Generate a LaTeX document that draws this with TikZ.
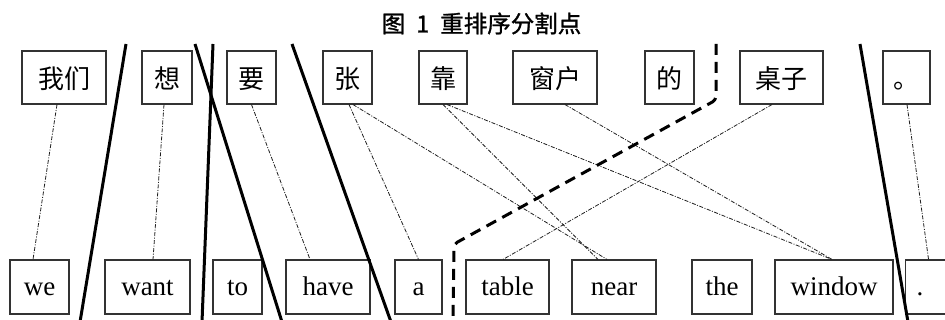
\documentclass[tikz,border=0pt]{standalone}
\usepackage{fontspec}
\setmainfont{Liberation Serif}
\newfontfamily\cjk{Noto Sans CJK SC}
\newfontfamily\cjktitle[FakeBold=1.2]{Noto Sans CJK SC}
\begin{document}
\begin{tikzpicture}[x=1pt,y=-1pt,
  zbox/.style={draw=black!80, line width=1.1pt, minimum height=53pt, inner sep=0pt,
    text height=23pt, text depth=0pt, font=\cjk\fontsize{26}{26}\selectfont},
  ebox/.style={draw=black!80, line width=1.1pt, minimum height=54pt, inner sep=0pt,
    text height=19pt, text depth=1pt, font=\fontsize{27}{27}\selectfont},
  link/.style={draw=black!88, line width=0.8pt, dash pattern=on 4pt off 1.5pt on 1pt off 1.5pt},
  cut/.style={draw=black, line width=3pt},
  dcut/.style={cut, dash pattern=on 11pt off 7pt}]
\useasboundingbox (0,0) rectangle (945,320);
\fill[white] (0,0) rectangle (945,320);

\node[font=\cjktitle\fontsize{23.5}{23.5}\selectfont] (title) at (481.5,23.5) {图\hskip 11pt 1\hskip 11pt 重排序分割点};

% Chinese boxes
\node[zbox, minimum width=84pt] (z1) at (64,77.5) {我们};
\node[zbox, minimum width=50pt] (z2) at (167,77.5) {想};
\node[zbox, minimum width=49pt] (z3) at (251.5,77.5) {要};
\node[zbox, minimum width=49pt] (z4) at (347.5,77.5) {张};
\node[zbox, minimum width=48pt] (z5) at (443,77.5) {靠};
\node[zbox, minimum width=84pt] (z6) at (555,77.5) {窗户};
\node[zbox, minimum width=49pt] (z7) at (669.5,77.5) {的};
\node[zbox, minimum width=83pt] (z8) at (781.5,77.5) {桌子};
\node[zbox, minimum width=47pt] (z9) at (906.5,77.5) {。};

% English boxes
\node[ebox, minimum width=59pt] (e1) at (39.5,287) {we};
\node[ebox, minimum width=85pt] (e2) at (147.5,287) {want};
\node[ebox, minimum width=49pt] (e3) at (237.5,287) {to};
\node[ebox, minimum width=84pt] (e4) at (328,287) {have};
\node[ebox, minimum width=47pt] (e5) at (418.5,287) {a};
\node[ebox, minimum width=83pt] (e6) at (507.5,287) {table};
\node[ebox, minimum width=84pt] (e7) at (614,287) {near};
\node[ebox, minimum width=60pt] (e8) at (722,287) {the};
\node[ebox, minimum width=118pt] (e9) at (834,287) {window};
\node[ebox, anchor=west, text width=58pt, align=left, inner xsep=11pt] (e10) at (905,287) {.};

% alignment links
\draw[link] ([xshift=-7pt]z1.south) -- ([xshift=-6.5pt]e1.north);
\draw[link] ([xshift=-3pt]z2.south) -- ([xshift=5.5pt]e2.north);
\draw[link] (z3.south) -- ([xshift=-18pt]e4.north);
\draw[link] ([xshift=1.5pt]z4.south) -- (e5.north);
\draw[link] ([xshift=5.5pt]z4.south) -- ([xshift=-7pt]e7.north);
\draw[link] (z5.south) -- ([xshift=-16pt]e7.north);
\draw[link] ([xshift=4pt]z5.south) -- ([xshift=-2pt]e9.north);
\draw[link] ([xshift=10pt]z6.south) -- ([xshift=-2pt]e9.north);
\draw[link] ([xshift=-9.5pt]z8.south) -- ([xshift=-4.5pt]e6.north);
\draw[link] ([xshift=0.5pt]z9.south) -- ([xshift=-17pt]e10.north);

% segmentation cuts
\coordinate (c1a) at (126,44);  \coordinate (c1b) at (80,322);
\coordinate (c2a) at (195,44);  \coordinate (c2b) at (282,322);
\coordinate (c3a) at (213,44);  \coordinate (c3b) at (202,322);
\coordinate (c4a) at (292,44);  \coordinate (c4b) at (391,322);
\coordinate (c6a) at (860,44);  \coordinate (c6b) at (908,322);
\coordinate (d1) at (716,44);
\coordinate (d2) at (716,100);
\coordinate (d3) at (454,244);
\coordinate (d4) at (453,322);
\draw[cut] (c1a) -- (c1b);
\draw[cut] (c2a) -- (c2b);
\draw[cut] (c3a) -- (c3b);
\draw[cut] (c4a) -- (c4b);
\draw[cut] (c6a) -- (c6b);
\draw[dcut, rounded corners=4pt] (d1) -- (d2) -- (d3) -- (d4);
\end{tikzpicture}
\end{document}
